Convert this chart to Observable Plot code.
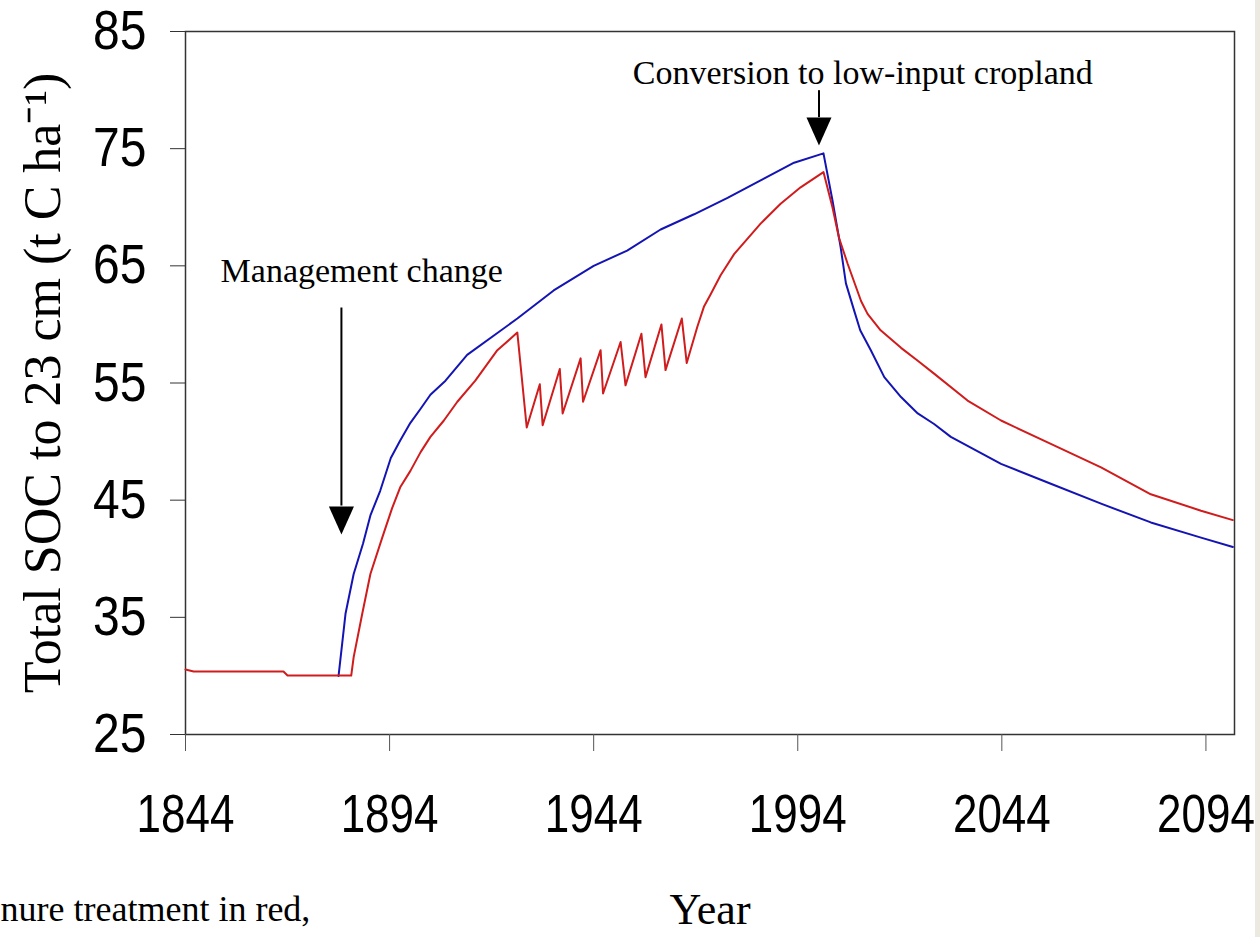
<!DOCTYPE html>
<html>
<head>
<meta charset="utf-8">
<script src="https://cdn.jsdelivr.net/npm/d3@7"></script>
<script src="https://cdn.jsdelivr.net/npm/@observablehq/plot@0.6"></script>
<style>
  html, body { margin: 0; padding: 0; background: #fff; }
  #wrap { position: relative; width: 1260px; height: 937px; overflow: hidden; }
  #edge { position: absolute; left: 1255px; top: 0; width: 5px; height: 937px; background: #ebe9e0; }
</style>
</head>
<body>
<div id="wrap"><div id="chart"></div><div id="edge"></div></div>
<script>
// ---- data ----
const xTicks = [1844, 1894, 1944, 1994, 2044, 2094];
const yTicks = [25, 35, 45, 55, 65, 75, 85];

// manure treatment (red)
const redYear = [1844, 1846, 1868, 1869, 1884.6, 1885.2, 1887.3, 1889.3, 1892.2, 1894.6, 1896.6, 1899.1, 1901.6, 1904, 1907.3, 1910.6, 1915, 1920.4,
  1925.3, 1927.6, 1930.8, 1931.5, 1935.7, 1936.4, 1940.8, 1941.4, 1945.7, 1946.3, 1950.6, 1951.8, 1955.7, 1956.7,
  1960.6, 1961.6, 1965.6, 1966.8, 1967.8, 1969.4, 1971, 1972.7, 1975.1, 1978.4, 1984.9, 1989.8, 1994.7, 2000.3,
  2002.5, 2004.1, 2006.2, 2009.5, 2011.1, 2014.3, 2019.3, 2023.4, 2027.4, 2035.6, 2043.8, 2056, 2068.3, 2080.5, 2092.8, 2100.6];
const redSOC = [30.55, 30.38, 30.38, 30.03, 30.03, 31.6, 35.3, 38.7, 41.8, 44.3, 46.1, 47.5, 49.1, 50.4, 51.8, 53.4, 55.2, 57.8,
  59.3, 51.2, 54.9, 51.4, 56.2, 52.4, 57.1, 53.4, 57.8, 54.1, 58.5, 54.8, 59.2, 55.5,
  60.0, 56.1, 60.5, 56.7, 57.9, 59.8, 61.5, 62.6, 64.2, 66.0, 68.6, 70.3, 71.7, 73.0,
  70.0, 67.4, 65.2, 62.0, 60.9, 59.5, 58.0, 56.9, 55.8, 53.5, 51.8, 49.8, 47.8, 45.5, 44.1, 43.3];

// other treatment (blue)
const blueYear = [1881.5, 1883.2, 1885.2, 1887.5, 1889.3, 1891.7, 1894.3, 1896.6, 1899.1, 1901.6, 1904, 1907.7, 1913, 1925.3, 1934.2, 1944,
  1952.2, 1960.4, 1968.6, 1976.8, 1984.9, 1993.1, 2000.3,
  2002.5, 2004.5, 2005.8, 2007.8, 2009.3, 2011.9, 2015.2, 2019.3, 2023.4, 2027.4, 2031.5, 2043.8, 2056, 2068.3, 2080.5, 2092.8, 2100.6];
const blueSOC = [30.0, 35.3, 38.7, 41.3, 43.7, 45.8, 48.6, 50.1, 51.6, 52.8, 54.0, 55.2, 57.4, 60.5, 62.9, 65.0,
  66.3, 68.1, 69.4, 70.8, 72.3, 73.8, 74.6,
  70.6, 66.6, 63.5, 61.2, 59.5, 57.8, 55.5, 53.8, 52.4, 51.5, 50.4, 48.1, 46.4, 44.7, 43.1, 41.8, 41.0];

// annotations
const noteText = ["Management change", "Conversion to low-input cropland"];
const noteYear = [1852.6, 1953.6];
const noteSOC = [63.6, 80.5];
const arrowYear = [1882.2, 1999.2];
const arrowTop = [61.4, 79.95];
const arrowHeadTop = [44.5, 77.65];
const arrowTip = [42.06, 75.26];

const yLabel = "Total SOC to 23 cm (t C ha\u207B\u00B9)";
const xLabel = "Year";
const caption = "nure treatment in red,";

// ---- build tables ----
const red = redYear.map((x, i) => ({year: x, soc: redSOC[i]}));
const blue = blueYear.map((x, i) => ({year: x, soc: blueSOC[i]}));
const notes = noteText.map((t, i) => ({text: t, year: noteYear[i], soc: noteSOC[i]}));
const arrows = arrowYear.map((x, i) => ({year: x, top: arrowTop[i], head: arrowHeadTop[i], tip: arrowTip[i]}));

const downTriangle = {
  draw(ctx) {
    ctx.moveTo(-12.5, -28);
    ctx.lineTo(12.5, -28);
    ctx.lineTo(0, 0);
    ctx.closePath();
  }
};

const serif = "'Liberation Serif', 'Times New Roman', Times, serif";

const chart = Plot.plot({
  width: 1260,
  height: 937,
  marginLeft: 185,
  marginRight: 26,
  marginTop: 31,
  marginBottom: 203,
  style: {background: "white", fontFamily: "'Liberation Sans', Arial, sans-serif", color: "black", overflow: "visible"},
  x: {domain: [1844, 2101]},
  y: {domain: [25, 85]},
  marks: [
    Plot.frame({stroke: "#333", strokeWidth: 1.5}),
    Plot.axisX({ticks: xTicks, tickFormat: d => String(d), tickSize: 17, tickPadding: 42, fontSize: 44, label: null, stroke: "#555", fill: "black"}),
    Plot.axisY({ticks: yTicks, tickFormat: d => String(d), tickSize: 15, tickPadding: 24, fontSize: 48, label: null, stroke: "#333", fill: "black"}),
    Plot.line(blue, {x: "year", y: "soc", stroke: "#1414b4", strokeWidth: 2}),
    Plot.line(red, {x: "year", y: "soc", stroke: "#d01c1c", strokeWidth: 2}),
    Plot.ruleX(arrows, {x: "year", y1: "top", y2: "head", stroke: "black", strokeWidth: 2}),
    Plot.dot(arrows, {x: "year", y: "tip", symbol: downTriangle, fill: "black", stroke: null}),
    Plot.text(notes, {x: "year", y: "soc", text: "text", textAnchor: "start", lineAnchor: "bottom", fontSize: 34, fontFamily: serif, fill: "black"}),
    Plot.text([yLabel], {frameAnchor: "left", textAnchor: "middle", rotate: -90, dx: -142, fontSize: 52, fontFamily: serif, fill: "black"}),
    Plot.text([xLabel], {frameAnchor: "bottom", textAnchor: "middle", dy: 189, lineAnchor: "bottom", fontSize: 44, fontFamily: serif, fill: "black"}),
    Plot.text([caption], {frameAnchor: "bottom-left", dx: -185, dy: 186, textAnchor: "start", lineAnchor: "bottom", fontSize: 36, fontFamily: serif, fill: "black"})
  ]
});

// the reference's sans-serif tick numbers are drawn taller than they are wide
function stretch(label, k) {
  chart.querySelectorAll(`g[aria-label="${label}"] text`).forEach(t => {
    const tr = t.getAttribute("transform") || "";
    t.setAttribute("transform", `${tr} scale(1,${k})`);
  });
}
stretch("x-axis tick label", 1.24);
stretch("y-axis tick label", 1.14);

document.getElementById("chart").appendChild(chart);
</script>
</body>
</html>
